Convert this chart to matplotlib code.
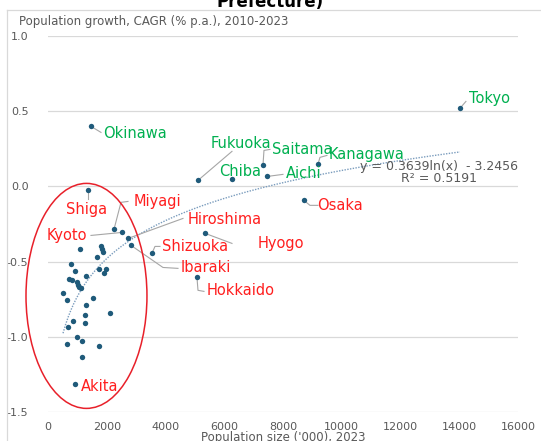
import numpy as np
import matplotlib
matplotlib.use("Agg")
import matplotlib.pyplot as plt
from matplotlib.patches import Ellipse
from matplotlib.lines import Line2D

# population ('000), 2023  /  CAGR % p.a. 2010-2023
names = ["Tokyo", "Okinawa", "Fukuoka", "Chiba", "Saitama", "Kanagawa", "Aichi",
         "Osaka", "Miyagi", "Kyoto", "Shiga", "Hiroshima", "Shizuoka", "Ibaraki",
         "Hyogo", "Hokkaido", "Akita"]
pop_lab = [14023, 1464, 5106, 6263, 7318, 9190, 7454,
           8713, 2246, 2519, 1361, 2723, 3540, 2825,
           5344, 5071, 919]
cagr_lab = [0.519, 0.399, 0.040, 0.047, 0.140, 0.146, 0.066,
            -0.093, -0.286, -0.306, -0.027, -0.346, -0.445, -0.392,
            -0.312, -0.605, -1.316]
green = ["Tokyo", "Okinawa", "Fukuoka", "Chiba", "Saitama", "Kanagawa", "Aichi"]

# the other prefectures (no label)
pop_other = [1089, 1804, 1838, 1872, 1668, 783, 919, 1736, 1974, 1906, 1293,
             715, 817, 987, 1021, 1055, 1123, 511, 647, 1532, 1293, 2110,
             1259, 851, 1259, 681, 987, 1157, 647, 1736, 1157]
cagr_other = [-0.419, -0.399, -0.419, -0.439, -0.472, -0.519, -0.565, -0.552,
              -0.552, -0.578, -0.598, -0.618, -0.625, -0.638, -0.658, -0.672,
              -0.678, -0.711, -0.758, -0.745, -0.791, -0.844, -0.858, -0.898,
              -0.911, -0.938, -1.004, -1.031, -1.051, -1.064, -1.137]

# log trend shown on the chart
coef_a, coef_b = 0.3639, -3.2456
r2 = 0.5191

# label placement (data units): text anchor, ha, leader bend points
label_pos = {
    "Tokyo": (14330, 0.585, "left", [(14227, 0.565)]),
    "Okinawa": (1872, 0.352, "left", [(1804, 0.359)]),
    "Fukuoka": (6569, 0.286, "center", [(6263, 0.233)]),
    "Chiba": (6535, 0.100, "center", []),
    "Saitama": (8645, 0.246, "center", [(7352, 0.239), (7556, 0.246)]),
    "Kanagawa": (10858, 0.213, "center", [(9258, 0.193), (9496, 0.206)]),
    "Aichi": (8713, 0.086, "center", [(7999, 0.080)]),
    "Osaka": (9939, -0.126, "center", [(8918, -0.126), (9190, -0.126)]),
    "Miyagi": (3710, -0.100, "center", [(2485, -0.106), (2723, -0.100)]),
    "Kyoto": (630, -0.326, "center", [(1464, -0.326)]),
    "Shiga": (1327, -0.153, "center", [(1361, -0.086)]),
    "Hiroshima": (6025, -0.219, "center", [(4595, -0.213)]),
    "Shizuoka": (5003, -0.399, "center", [(3642, -0.399), (3812, -0.399)]),
    "Ibaraki": (5378, -0.539, "center", [(3914, -0.539), (4425, -0.545)]),
    "Hyogo": (7930, -0.379, "center", [(6263, -0.379)]),
    "Hokkaido": (6569, -0.691, "center", [(5106, -0.691), (5310, -0.698)]),
    "Akita": (1770, -1.330, "center", []),
}

W, H = 541, 441
fig = plt.figure(figsize=(W / 100, H / 100), dpi=100)
ax = fig.add_axes([48 / W, 1 - 412 / H, 470 / W, 376 / H])

grey = "#595959"
dot_c = "#1f5a7a"
green_c = "#00b050"
red_c = "#ff1f1f"

ax.set_xlim(0, 16000)
ax.set_ylim(-1.5, 1.0)
ax.set_xticks(np.arange(0, 16001, 2000))
ax.set_yticks([1.0, 0.5, 0.0, -0.5, -1.0, -1.5])
ax.set_yticklabels(["1.0", "0.5", "0.0", "-0.5", "-1.0", "-1.5"])
for s in ax.spines.values():
    s.set_visible(False)
ax.tick_params(length=0, labelsize=8, colors=grey)
ax.tick_params(axis="y", pad=14)
ax.tick_params(axis="x", pad=7)
ax.grid(axis="y", color="#d9d9d9", lw=0.9)
ax.set_axisbelow(True)

# trend line
allx = np.array(pop_lab + pop_other)
xs = np.linspace(allx.min(), allx.max(), 300)
ax.plot(xs, coef_a * np.log(xs) + coef_b, ls=(0, (1, 1)), color="#7a9cbd", lw=1.0, zorder=2)

# leaders
for n, x, y in zip(names, pop_lab, cagr_lab):
    tx, ty, ha, pts = label_pos[n]
    if pts:
        px = [x] + [p[0] for p in pts]
        py = [y] + [p[1] for p in pts]
        ax.plot(px, py, color="#a6a6a6", lw=0.8, zorder=2)

ax.scatter(pop_other, cagr_other, s=15, color=dot_c, zorder=3, linewidths=0)
ax.scatter(pop_lab, cagr_lab, s=15, color=dot_c, zorder=3, linewidths=0)

for n in names:
    tx, ty, ha, pts = label_pos[n]
    ax.text(tx, ty, n, ha=ha, va="center", fontsize=10.5,
            color=green_c if n in green else red_c, zorder=4)

ax.text(16000, 0.135, f"y = {coef_a}ln(x)  - {abs(coef_b)}", ha="right", va="center",
        fontsize=9, color=grey, zorder=4)
ax.text(13300, 0.055, f"R\u00b2 = {r2}", ha="center", va="center",
        fontsize=9, color=grey, zorder=4)

# red ellipse around small prefectures
ax.add_patch(Ellipse((1310, -0.728), 4118, 1.496, fill=False, edgecolor="#e8202a",
                     lw=1.1, clip_on=False, zorder=5))

# axis captions
fig.text(19 / W, 1 - 22 / H, "Population growth, CAGR (% p.a.), 2010-2023",
         ha="left", va="center", fontsize=8.5, color=grey)
fig.text(283 / W, 1 - 431 / H, "Population size ('000), 2023",
         ha="center", va="top", fontsize=8.5, color=grey)

# title (cut off at top) and chart frame
fig.text(0.5, 1 - 7 / H, "Prefecture)", ha="center", va="baseline",
         fontsize=12, fontweight="bold", color="black")
fig.add_artist(Line2D([7 / W, 7 / W], [0, 1 - 10 / H], color="#d9d9d9", lw=0.9))
fig.add_artist(Line2D([7 / W, 1], [1 - 10 / H, 1 - 10 / H], color="#d9d9d9", lw=0.9))

fig.savefig("out.png", dpi=100)
